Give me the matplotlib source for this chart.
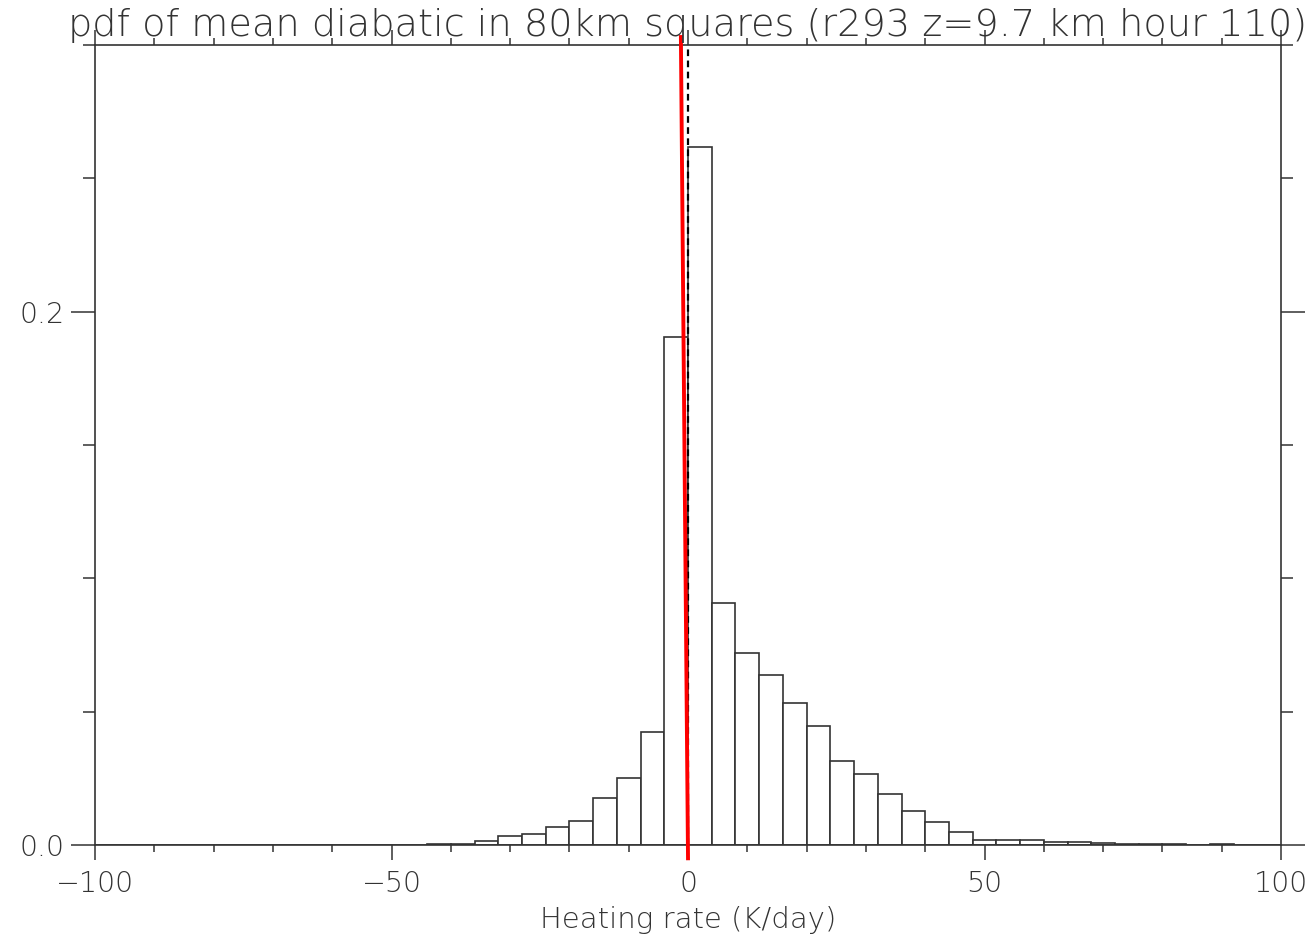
import matplotlib
matplotlib.use("Agg")
import matplotlib.pyplot as plt
from matplotlib.ticker import MultipleLocator, FormatStrFormatter

# histogram of heating rate, bins of 4 K/day from -100 to 100
bin_edges = list(range(-100, 101, 4))
pdf_values = [
    0, 0, 0, 0, 0, 0, 0, 0, 0, 0,            # -100 .. -60
    0, 0, 0, 0.0001, 0.0002, 0.0005,          # -60 .. -36
    0.0014, 0.0035, 0.0042, 0.0066, 0.0089,   # -36 .. -16
    0.0175, 0.0252, 0.0422, 0.1906,           # -16 .. 0
    0.2618, 0.0909, 0.0720, 0.0638, 0.0532,   # 0 .. 20
    0.0447, 0.0316, 0.0265, 0.0191, 0.0126,   # 20 .. 40
    0.0085, 0.0050, 0.0019, 0.0019, 0.0019,   # 40 .. 60
    0.0012, 0.0011, 0.0006, 0.0005, 0.0005,   # 60 .. 80
    0.0002, 0.0001, 0.0004, 0, 0,             # 80 .. 100
]
mean_line_x = [-1.2, 0.0]
mean_line_y = [0.303, -0.005]

title = "pdf of mean diabatic in 80km squares (r293 z=9.7 km hour 110)"
xlabel = "Heating rate (K/day)"

ink = "#333333"
plt.rcParams["font.family"] = ["DejaVu Sans"]
plt.rcParams["font.weight"] = "light"
plt.rcParams["axes.labelweight"] = "light"

fig = plt.figure(figsize=(13.12, 9.40), dpi=100)
ax = fig.add_axes([0.0724, 0.1011, 0.904, 0.851])

lefts = bin_edges[:-1]
ax.bar(lefts, pdf_values, width=4, align="edge", color="white",
       edgecolor=ink, linewidth=1.2, zorder=2)

ax.plot([0, 0], [0, 0.3], color="black", linestyle=(0, (3, 2)),
        linewidth=1.6, zorder=3)
ax.plot(mean_line_x, mean_line_y, color="#ff0000", linewidth=2.8,
        clip_on=False, zorder=4)

ax.set_xlim(-100, 100)
ax.set_ylim(0, 0.3)

ax.xaxis.set_major_locator(MultipleLocator(50))
ax.xaxis.set_minor_locator(MultipleLocator(10))
ax.yaxis.set_major_locator(MultipleLocator(0.2))
ax.yaxis.set_minor_locator(MultipleLocator(0.05))
ax.yaxis.set_major_formatter(FormatStrFormatter("%.1f"))

ax.tick_params(axis="x", which="major", direction="out", length=11,
               width=1.1, color=ink, labelsize=20.5, labelcolor=ink, pad=7,
               top=True, labeltop=False)
ax.tick_params(axis="x", which="minor", direction="out", length=5,
               width=1.1, color=ink, top=True)
ax.tick_params(axis="y", which="major", direction="out", length=17,
               width=1.1, color=ink, labelsize=20.5, labelcolor=ink, pad=5,
               right=True, labelright=False)
ax.tick_params(axis="y", which="minor", direction="out", length=8.6,
               width=1.1, color=ink, right=True)
for s in ax.spines.values():
    s.set_color(ink)
    s.set_linewidth(1.2)

ax.set_xlabel(xlabel, fontsize=21, color=ink, labelpad=6, fontweight="light")
fig.text(0.524, 0.962, title, fontsize=27.5, color=ink, ha="center",
         va="baseline", fontweight="light")

fig.savefig("out.png", dpi=100, facecolor="white")
